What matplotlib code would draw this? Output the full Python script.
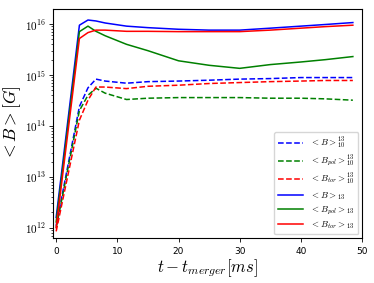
import matplotlib
matplotlib.use("Agg")
import matplotlib.pyplot as plt
from matplotlib.ticker import FuncFormatter
import numpy as np

plt.rcParams['mathtext.fontset'] = 'cm'

# time after merger [ms]
t = [0, 3.8, 5.2, 6.5, 8, 11.5, 15, 20, 25, 30, 35, 40, 44, 48.5]

# average field strengths [G]
b_10 = [1.1e12, 2.4e14, 5.6e14, 8.3e14, 7.6e14, 6.9e14, 7.4e14, 7.6e14, 7.9e14, 8.3e14, 8.5e14, 8.9e14, 8.9e14, 8.9e14]
bpol_10 = [1.0e12, 2.0e14, 4.0e14, 5.5e14, 4.4e14, 3.3e14, 3.5e14, 3.6e14, 3.6e14, 3.6e14, 3.5e14, 3.5e14, 3.4e14, 3.2e14]
btor_10 = [8.5e11, 1.3e14, 3.2e14, 5.8e14, 5.8e14, 5.4e14, 6.0e14, 6.3e14, 6.8e14, 7.1e14, 7.4e14, 7.6e14, 7.8e14, 7.8e14]
b_13 = [1.6e12, 9.5e15, 1.2e16, 1.15e16, 1.05e16, 9.1e15, 8.5e15, 7.9e15, 7.6e15, 7.6e15, 8.3e15, 9.1e15, 9.8e15, 1.07e16]
bpol_13 = [1.3e12, 7.1e15, 9.1e15, 7.2e15, 5.9e15, 4.0e15, 3.0e15, 1.9e15, 1.55e15, 1.35e15, 1.6e15, 1.8e15, 2.0e15, 2.3e15]
btor_13 = [1.0e12, 5.2e15, 6.8e15, 7.6e15, 7.6e15, 7.2e15, 7.2e15, 7.1e15, 7.1e15, 7.1e15, 7.6e15, 8.3e15, 8.9e15, 9.5e15]

fig = plt.figure(figsize=(3.74, 2.83), dpi=100)
ax = fig.add_axes([0.142, 0.159, 0.826, 0.809])

ax.plot(t, b_10, 'b--', lw=1.1, label=r'$<B>_{10}^{13}$')
ax.plot(t, bpol_10, 'g--', lw=1.1, label=r'$<B_{pol}>_{10}^{13}$')
ax.plot(t, btor_10, 'r--', lw=1.1, label=r'$<B_{tor}>_{10}^{13}$')
ax.plot(t, b_13, 'b-', lw=1.1, label=r'$<B>_{13}$')
ax.plot(t, bpol_13, 'g-', lw=1.1, label=r'$<B_{pol}>_{13}$')
ax.plot(t, btor_13, 'r-', lw=1.1, label=r'$<B_{tor}>_{13}$')

ax.set_yscale('log')
ax.set_xlim(-0.5, 50)
ax.set_ylim(6.3e11, 1.97e16)
ax.set_xticks([0, 10, 20, 30, 40, 50])
ax.yaxis.set_major_formatter(FuncFormatter(lambda v, p: r'$10^{%d}$' % round(np.log10(v))))
ax.tick_params(axis='x', labelsize=6.5, length=3, width=0.6)
ax.tick_params(axis='y', labelsize=8, length=3, width=0.6, pad=2)
ax.tick_params(which='minor', length=1.5, width=0.5)

ax.set_xlabel(r'$t - t_{merger}[ms]$', fontsize=12, labelpad=1)
ax.set_ylabel(r'$<B>[G]$', fontsize=12.5)
ax.yaxis.set_label_coords(-0.097, 0.5)

ax.legend(loc='lower right', fontsize=6.5, handlelength=2.8, labelspacing=0.3,
          borderaxespad=0.4, borderpad=0.4, handletextpad=0.8)

fig.savefig('out.png', dpi=100)
